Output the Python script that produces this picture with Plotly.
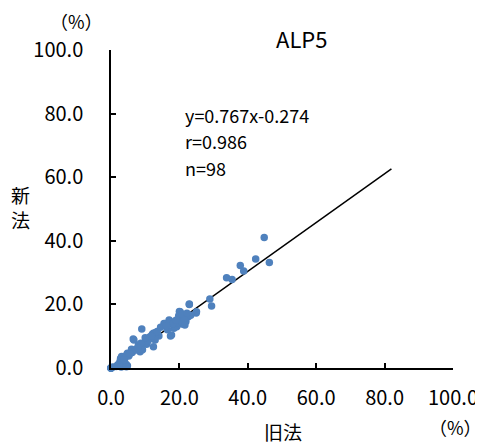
import plotly.graph_objects as go

# 旧法 (old method, %) vs 新法 (new method, %)
old_method = [
    44.8, 42.3, 46.3, 37.8, 38.8, 33.8, 35.4, 28.9, 29.4, 22.9,
    24.9, 20.0, 21.1, 22.6, 20.2, 21.9, 20.7, 19.2, 18.4, 17.0,
    15.5, 17.4, 12.9, 12.1, 11.4, 14.0, 9.0, 6.5, 10.4, 12.4,
    8.0, 6.0, 8.5, 7.3, 4.6, 3.1, 3.6, 2.6, 4.1, 3.1,
    0.0, 0.0, 0.0, 0.0, 0.0, 0.5, 2.3, 3.8, 4.8, 2.8,
    3.8, 6.2, 7.2, 6.7, 9.6, 9.2, 4.8, 3.3, 4.4, 2.0,
    3.5, 4.0, 5.2, 1.5, 3.0, 4.5, 22.9, 20.2, 21.1, 25.0,
    15.8, 17.3, 18.7, 8.7, 11.4, 12.9, 12.4, 17.7, 19.5, 20.5,
    21.5, 19.8, 18.0, 16.5, 13.5, 10.8, 20.8, 23.3, 19.0, 21.6,
    14.5, 11.8, 10.0, 7.8, 5.5, 16.2, 22.2, 3.9,
]
new_method = [
    41.0, 34.3, 33.2, 32.2, 30.5, 28.4, 27.8, 21.7, 19.5, 20.0,
    17.3, 17.8, 16.7, 16.1, 15.6, 14.6, 13.8, 13.0, 12.5, 15.1,
    14.0, 10.1, 11.1, 10.6, 9.3, 10.1, 12.3, 9.1, 7.5, 6.7,
    7.2, 5.9, 5.1, 5.7, 4.1, 3.6, 2.5, 2.0, 0.7, 0.7,
    0.0, 0.0, 0.0, 0.0, 0.0, 0.3, 0.7, 0.9, 0.7, 3.0,
    3.6, 4.9, 5.7, 8.8, 7.8, 5.7, 4.6, 1.5, 1.2, 1.0,
    2.0, 3.0, 3.8, 0.5, 0.3, 0.4, 20.1, 17.7, 16.7, 17.7,
    14.0, 14.6, 13.0, 7.8, 9.8, 8.8, 10.9, 10.4, 14.2, 14.8,
    15.5, 16.4, 13.8, 12.0, 11.5, 8.5, 17.0, 16.6, 15.0, 13.5,
    12.8, 10.0, 9.5, 6.4, 4.5, 13.3, 17.2, 2.6,
]

slope = 0.767
intercept = -0.274
r_value = 0.986
n_count = 98
fit_x = [0.0, 82.0]
fit_y = [slope * v + intercept for v in fit_x]

tick_vals = [0, 20, 40, 60, 80, 100]
tick_text = ["0.0", "20.0", "40.0", "60.0", "80.0", "100.0"]

FONT = "Noto Sans CJK JP"

fig = go.Figure()
fig.add_trace(go.Scatter(
    x=fit_x, y=fit_y, mode="lines",
    line=dict(color="black", width=1.5),
    hoverinfo="skip", cliponaxis=False,
))
fig.add_trace(go.Scatter(
    x=old_method, y=new_method, mode="markers",
    marker=dict(color="#4F81BD", size=7.5),
    cliponaxis=False,
))

axis_common = dict(
    range=[0, 100], showgrid=False, zeroline=False,
    showline=True, linecolor="black", linewidth=1.5,
    ticks="inside", ticklen=5, tickwidth=1.5, tickcolor="black",
    tickvals=tick_vals, ticktext=tick_text,
    tickfont=dict(family=FONT, size=20, color="black"),
    automargin=False,
)
fig.update_xaxes(**axis_common, ticklabelstandoff=11)
fig.update_yaxes(**axis_common, ticklabelstandoff=22)

txt_font = dict(family=FONT, size=18, color="black")


def paper_text(text, x, y, size):
    return dict(text=text, x=x, y=y, xref="paper", yref="paper",
                xanchor="center", yanchor="middle", showarrow=False,
                font=dict(family=FONT, size=size, color="black"))


def stat_text(text, y):
    return dict(text=text, x=21.0, y=y, xref="x", yref="y",
                xanchor="left", yanchor="middle", showarrow=False,
                font=txt_font)


ann = [
    paper_text("ALP5", 0.558, 1.038, 22),
    paper_text("（%）", -0.102, 1.092, 18),
    paper_text("（%）", 1.006, -0.186, 18),
    paper_text("旧法", 0.503, -0.201, 19),
    paper_text("新<br>法", -0.266, 0.506, 19),
    stat_text(f"y={slope}x{intercept:+.3f}", 79.5),
    stat_text(f"r={r_value}", 71.4),
    stat_text(f"n={n_count}", 62.9),
]

# page body adds an 8px offset; margins compensate so the plot area
# lands at x 111..453, y 50..368 in the window
fig.update_layout(
    width=483, height=446,
    margin=dict(l=103, r=38, t=42, b=86),
    paper_bgcolor="white", plot_bgcolor="white",
    showlegend=False,
    annotations=ann,
)

fig.write_html("out.html")
